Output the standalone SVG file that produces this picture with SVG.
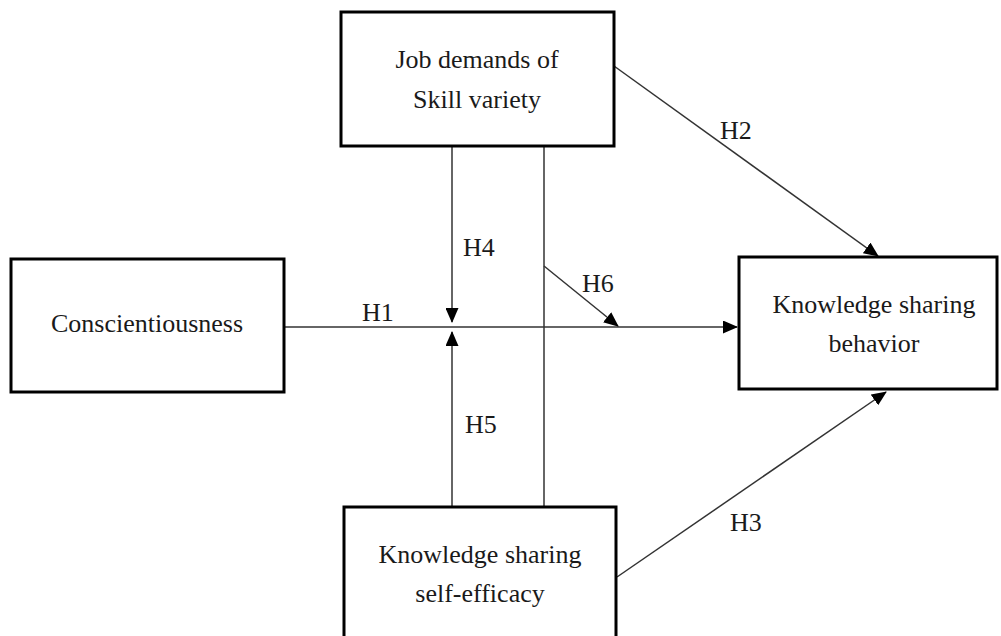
<svg xmlns="http://www.w3.org/2000/svg" width="1001" height="636" viewBox="0 0 1001 636">
<style>
.box{fill:#fff;stroke:#000;stroke-width:3}
.t{font-family:"Liberation Serif","Times New Roman",serif;font-size:26px;fill:#1a1a1a;text-anchor:middle}
.l{font-family:"Liberation Serif","Times New Roman",serif;font-size:26px;fill:#1a1a1a}
.c{stroke:#333;stroke-width:1.5;fill:none}
</style>
<defs>
<marker id="ah" markerWidth="15" markerHeight="13" refX="14" refY="6.5" orient="auto" markerUnits="userSpaceOnUse">
<path d="M0,0 L15,6.5 L0,13 Z" fill="#000"/>
</marker>
</defs>
<rect width="1001" height="636" fill="#fff"/>
<g id="connectors">
<line class="c" x1="284" y1="327" x2="737" y2="327" marker-end="url(#ah)"/>
<line class="c" x1="452" y1="146" x2="452" y2="322" marker-end="url(#ah)"/>
<line class="c" x1="452" y1="507" x2="452" y2="332" marker-end="url(#ah)"/>
<line class="c" x1="544" y1="146" x2="544" y2="507"/>
<line class="c" x1="544" y1="266" x2="618" y2="326" marker-end="url(#ah)"/>
<line class="c" x1="614" y1="66" x2="878" y2="256" marker-end="url(#ah)"/>
<line class="c" x1="617" y1="577" x2="886" y2="392" marker-end="url(#ah)"/>
</g>
<g id="labels">
<text class="l" x="362" y="321">H1</text>
<text class="l" x="720" y="139">H2</text>
<text class="l" x="730" y="531">H3</text>
<text class="l" x="463" y="256">H4</text>
<text class="l" x="465" y="433">H5</text>
<text class="l" x="582" y="292">H6</text>
</g>
<g id="node-job">
<rect class="box" x="341" y="12" width="273" height="134"/>
<text class="t" x="477" y="68">Job demands of</text>
<text class="t" x="477" y="108">Skill variety</text>
</g>
<g id="node-consc">
<rect class="box" x="11" y="259" width="273" height="133"/>
<text class="t" x="147" y="332">Conscientiousness</text>
</g>
<g id="node-ksb">
<rect class="box" x="739" y="257" width="258" height="132"/>
<text class="t" x="874" y="313">Knowledge sharing</text>
<text class="t" x="874" y="352">behavior</text>
</g>
<g id="node-kse">
<rect class="box" x="344" y="507" width="272" height="140"/>
<text class="t" x="480" y="563">Knowledge sharing</text>
<text class="t" x="480" y="602">self-efficacy</text>
</g>
</svg>
